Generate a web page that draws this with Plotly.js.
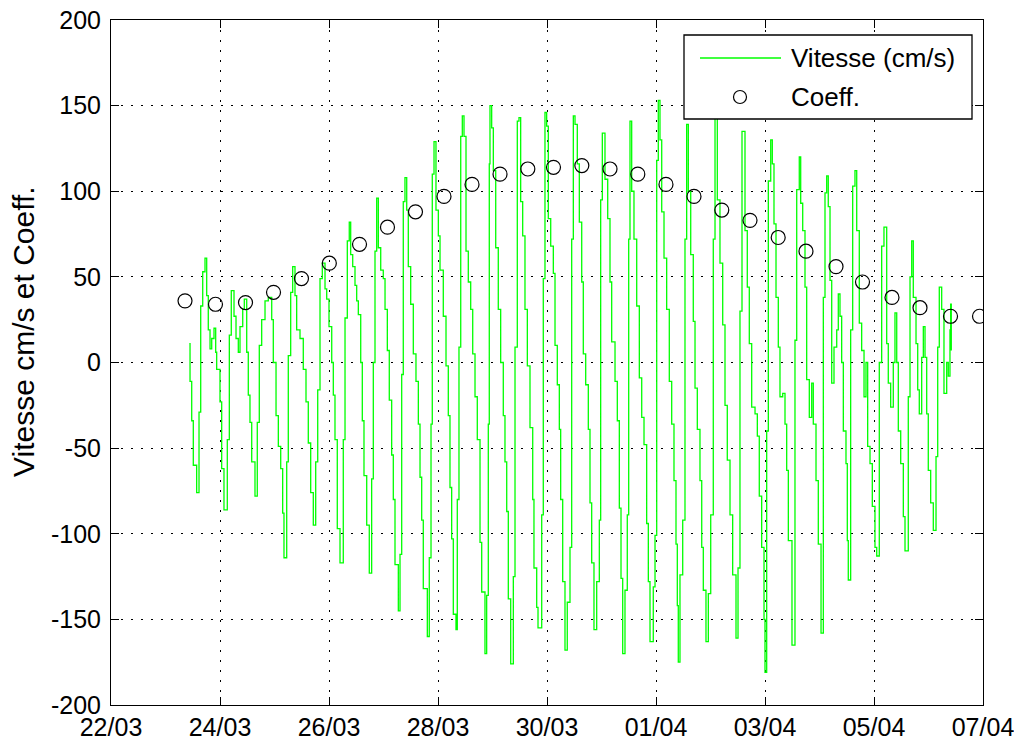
<!DOCTYPE html>
<html>
<head>
<meta charset="utf-8">
<script src="https://cdn.plot.ly/plotly-3.0.1.min.js"></script>
<style>
html,body{margin:0;padding:0;background:#fff;}
#chart{width:1014px;height:743px;}
</style>
</head>
<body>
<div id="chart"></div>
<script>
// Time values are in days after 22/03 00:00
const startDate = Date.UTC(2013, 2, 22);
const xTickLabels = ['22/03','24/03','26/03','28/03','30/03','01/04','03/04','05/04','07/04'];
const yTickValues = [-200,-150,-100,-50,0,50,100,150,200];
const yTickLabels = ['-200','-150','-100','-50','0','50','100','150','200'];

const speedDays = [
1.437,1.450,1.481,1.510,1.572,1.615,1.646,1.683,1.725,1.756,1.785,1.817,1.848,1.890,1.921,1.939,2.000,2.031,2.073,
2.134,2.171,2.207,2.257,2.294,2.336,2.367,2.417,2.446,2.490,2.519,2.550,2.582,2.642,
2.684,2.721,2.765,2.826,2.886,2.949,2.978,3.028,3.070,3.114,3.150,3.174,
3.224,3.253,3.297,3.334,3.376,3.407,3.468,3.528,3.578,3.620,3.664,3.712,
3.756,3.793,3.835,3.877,3.927,3.958,4.000,4.050,4.079,4.110,4.152,4.202,
4.262,4.294,4.336,4.372,4.398,4.435,4.477,4.508,4.538,4.582,4.611,4.642,4.692,4.739,
4.783,4.813,4.844,4.875,4.905,4.949,4.996,5.028,5.070,5.106,5.150,5.180,5.211,5.272,
5.303,5.334,5.363,5.394,5.426,5.455,5.499,5.547,5.596,5.639,5.670,5.701,5.730,5.804,
5.840,5.872,5.895,5.927,5.963,6.006,6.037,6.097,6.147,6.189,6.220,6.251,6.281,6.330,
6.354,6.385,6.417,6.446,6.477,6.514,6.556,6.600,6.637,6.679,6.721,6.771,6.802,6.862,
6.893,6.923,6.941,6.954,6.985,7.015,7.059,7.106,7.150,7.198,7.229,7.261,7.290,7.334,
7.382,7.413,7.455,7.486,7.517,7.554,7.596,7.639,7.688,7.738,7.761,7.811,7.835,
7.903,7.932,7.963,7.994,8.024,8.068,8.116,8.147,8.189,8.226,8.251,8.288,8.330,
8.372,8.422,8.453,8.483,8.514,8.556,8.593,8.637,8.666,8.710,8.758,8.789,8.820,8.862,
8.912,8.960,8.985,9.015,9.064,9.114,9.156,9.187,9.248,9.290,9.327,9.358,9.389,
9.431,9.473,9.499,9.523,9.554,9.596,9.646,9.694,9.738,9.780,9.829,9.859,9.890,
9.950,9.982,10.013,10.042,10.073,10.105,10.147,10.196,10.244,10.288,10.330,10.367,10.391,10.409,
10.440,10.490,10.532,10.563,10.593,10.637,10.684,10.716,10.758,10.807,10.839,10.868,10.917,
10.960,11.004,11.051,11.083,11.125,11.174,11.224,11.266,11.308,11.358,11.407,11.468,
11.505,11.541,11.578,11.633,11.675,11.712,11.756,11.817,11.859,11.895,11.939,11.982,12.000,
12.031,12.061,12.105,12.134,12.165,12.202,12.244,12.275,12.325,12.367,12.398,12.428,12.495,
12.550,12.582,12.629,12.655,12.692,12.734,12.765,12.813,12.857,12.886,12.936,12.978,13.028,
13.070,13.101,13.132,13.161,13.193,13.224,13.266,13.316,13.345,13.376,13.407,13.437,13.486,13.510,13.528,
13.572,13.609,13.651,13.683,13.730,13.774,13.817,13.853,13.884,13.927,13.969,14.018,14.050,
14.097,14.141,14.183,14.233,14.262,14.306,14.354,14.385,14.417,14.446,14.490,14.538,14.569,
14.629,14.661,14.692,14.721,14.771,14.802,14.831,14.875,14.905,14.936,14.967,14.996,15.040,15.088,
15.138,15.169,15.198,15.242,15.284,15.334,15.363,15.394,15.407,15.418
];
const speedValues = [
11,-11,-34,-60,-76,-29,33,53,61,39,19,8,14,20,6,-4,-23,-62,-86,
-45,16,42,27,14,6,21,31,37,6,-19,-35,-58,-78,
-35,10,25,36,38,25,0,-31,-49,-62,-88,-114,
-58,4,41,56,39,19,14,-4,-23,-47,-76,-95,
-58,-16,49,58,43,37,21,0,-19,-45,-97,-117,
-45,26,71,82,63,56,45,36,28,0,-34,-66,-95,-123,
-68,0,65,96,67,54,49,31,7,-22,-54,-80,-118,-145,
-112,-7,94,108,89,56,34,5,-11,-36,-67,-92,-132,-160,
-114,-36,110,129,89,74,54,27,-2,-31,-73,-103,-147,-156,
-80,9,132,144,132,65,47,31,5,-20,-45,-105,-134,-170,
-136,-36,116,150,137,112,67,31,0,-31,-58,-87,-138,-176,
-125,9,141,143,94,74,31,-2,-38,-80,-120,-143,-155,
-89,49,146,138,84,68,52,10,-13,-39,-80,-128,-168,
-140,-108,72,144,139,116,82,47,5,-13,-39,-82,-117,-156,
-128,-92,95,134,107,84,47,12,-11,-34,-85,-126,-170,
-133,-89,72,141,100,72,33,-9,-32,-48,-94,-128,-163,
-131,-101,118,153,130,88,61,31,-11,-36,-69,-106,-142,-175,
-124,-92,72,139,100,63,24,-15,-39,-69,-108,-133,-163,
-135,-89,72,143,95,58,22,-25,-57,-89,-124,-161,
-120,30,135,77,44,11,-26,-30,-43,-78,-108,-150,-181,
-40,106,130,116,81,38,9,-20,-18,-36,-63,-104,-165,
13,101,120,93,77,44,-10,-32,-12,-36,-69,-106,-158,
38,99,109,91,48,-12,9,19,40,27,0,-40,-59,-104,-127,
19,103,112,77,23,7,-20,0,-49,-59,-84,-108,-113,
0,68,79,11,-12,-26,0,29,0,-40,-59,-90,-110,
-20,50,71,38,11,-16,-30,3,21,3,-30,-63,-82,-98,
-55,9,44,31,-18,0,-8,19,34,7
];

const coeffDays = [1.358,1.917,2.468,2.982,3.495,4.006,4.560,5.073,5.587,6.110,6.624,7.138,7.648,8.119,8.639,
  9.156,9.666,10.183,10.697,11.207,11.725,12.242,12.752,13.303,13.789,14.330,14.844,15.404,15.936];
const coeffValues = [36,34,35,41,49,58,69,79,88,97,104,110,113,114,115,113,110,104,97,89,83,73,65,56,47,38,32,27,27];

function toDate(d){
  return new Date(startDate + d*86400000).toISOString().replace('T',' ').replace('Z','');
}
const speedX = speedDays.map(toDate);
const coeffX = coeffDays.map(toDate);
const xTickVals = xTickLabels.map((_, i) => toDate(i*2));

const FONT = 'Liberation Sans, Arial, Helvetica, sans-serif';

const traces = [
  {x: speedX, y: speedValues, type: 'scatter', mode: 'lines', name: 'Vitesse (cm/s)',
   line: {color: '#00ff00', width: 1.3, shape: 'hv'}, showlegend: false, hoverinfo: 'x+y'},
  {x: coeffX, y: coeffValues, type: 'scatter', mode: 'markers', name: 'Coeff.',
   marker: {symbol: 'circle-open', size: 14, color: '#000', line: {width: 1.2, color: '#000'}},
   showlegend: false}
];

// legend drawn in plot-paper coords (plot area: 872 x 685 px)
const PW = 872, PH = 685;
const px = v => (v - 111) / PW;
const py = v => (705 - v) / PH;

const layout = {
  width: 1014, height: 743,
  margin: {l: 111, r: 31, t: 20, b: 38},
  paper_bgcolor: '#fff', plot_bgcolor: '#fff',
  font: {family: FONT, size: 25, color: '#000'},
  showlegend: false,
  xaxis: {
    type: 'date',
    range: [toDate(0), toDate(16)],
    tickvals: xTickVals, ticktext: xTickLabels,
    ticks: 'inside', ticklen: 8, tickcolor: '#000', tickwidth: 1,
    showline: true, linecolor: '#000', linewidth: 1, mirror: 'ticks',
    showgrid: true, gridcolor: '#000', gridwidth: 1, griddash: '2px,8px',
    zeroline: false,
    tickfont: {family: FONT, size: 25, color: '#000'},
    ticklabelstandoff: 0,
    ticklabeloverflow: 'allow'
  },
  yaxis: {
    range: [-200, 200],
    tickvals: yTickValues, ticktext: yTickLabels,
    ticks: 'inside', ticklen: 8, tickcolor: '#000', tickwidth: 1,
    showline: true, linecolor: '#000', linewidth: 1, mirror: 'ticks',
    showgrid: true, gridcolor: '#000', gridwidth: 1, griddash: '2px,8px',
    zeroline: false,
    tickfont: {family: FONT, size: 25, color: '#000'},
    ticklabelstandoff: 4,
    ticklabeloverflow: 'allow'
  },
  shapes: [
    {type: 'rect', xref: 'paper', yref: 'paper', x0: px(684), x1: px(972), y0: py(119), y1: py(35),
     line: {color: '#000', width: 1.3}, fillcolor: '#fff', layer: 'above'},
    {type: 'line', xref: 'paper', yref: 'paper', x0: px(700), x1: px(781), y0: py(58), y1: py(58),
     line: {color: '#00ff00', width: 1.3}, layer: 'above'},
    {type: 'circle', xref: 'paper', yref: 'paper', xsizemode: 'pixel', ysizemode: 'pixel',
     xanchor: px(740), yanchor: py(97), x0: -6.5, x1: 6.5, y0: -6.5, y1: 6.5,
     line: {color: '#000', width: 1.2}, layer: 'above'}
  ],
  annotations: [
    {text: 'Vitesse (cm/s)', xref: 'paper', yref: 'paper', x: px(789), y: py(58), xanchor: 'left', yanchor: 'middle',
     showarrow: false, font: {family: FONT, size: 26, color: '#000'}},
    {text: 'Coeff.', xref: 'paper', yref: 'paper', x: px(789), y: py(97), xanchor: 'left', yanchor: 'middle',
     showarrow: false, font: {family: FONT, size: 26, color: '#000'}},
    {text: 'Vitesse cm/s et Coeff.', xref: 'paper', yref: 'paper', x: px(23), y: py(332), xanchor: 'center', yanchor: 'middle',
     textangle: -90, showarrow: false, font: {family: FONT, size: 30, color: '#000'}}
  ]
};

Plotly.newPlot('chart', traces, layout, {displayModeBar: false, staticPlot: true});
</script>
</body>
</html>
